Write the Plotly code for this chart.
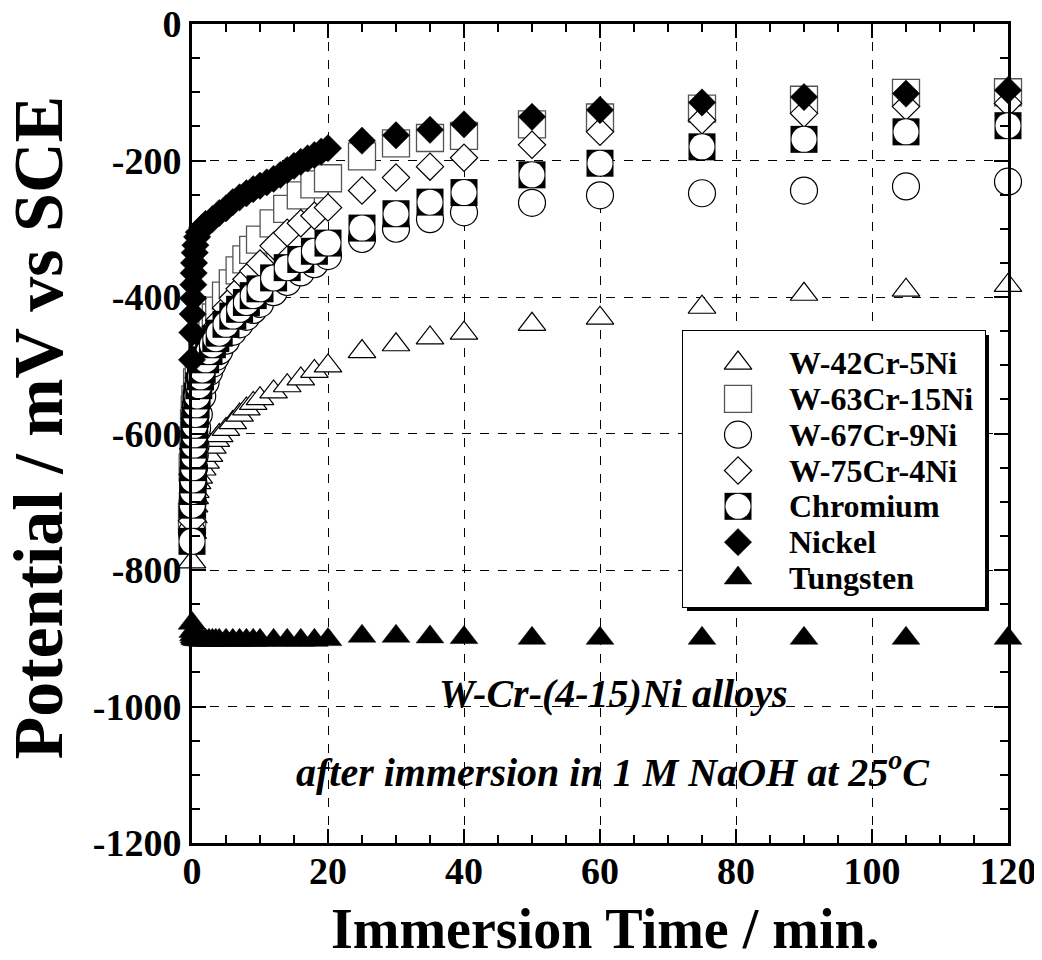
import plotly.graph_objects as go

# ---------------- data ----------------
t_alloy = [0, 0.1, 0.2, 0.3, 0.4, 0.5, 0.75, 1, 1.5, 2, 2.5, 3, 3.5, 4, 5, 6, 7, 8, 9, 10,
           12, 14, 16, 18, 20, 25, 30, 35, 40, 50, 60, 75, 90, 105, 120]

w42 = [-788, -745, -722, -706, -694, -685, -672, -664, -652, -642, -632, -620, -610, -603,
       -594, -584, -573, -564, -556, -549, -539, -530, -520, -509, -501,
       -480, -470, -460, -453, -440, -431, -415, -396, -390, -383]

w63 = [-722, -650, -610, -585, -565, -550, -525, -505, -482, -466, -452, -440, -430, -420,
       -398, -380, -361, -345, -331, -316, -292, -271, -251, -235, -226,
       -194, -175, -167, -164, -147, -137, -124, -111, -101, -100]

w67 = [-745, -700, -672, -650, -632, -618, -592, -572, -545, -525, -510, -498, -488, -479,
       -464, -451, -440, -429, -419, -410, -393, -378, -364, -352, -340,
       -315, -300, -286, -276, -262, -251, -248, -244, -238, -231]

w75 = [-728, -660, -622, -597, -578, -562, -537, -518, -496, -480, -467, -455, -444, -434,
       -416, -402, -388, -374, -362, -351, -325, -306, -292, -281, -269,
       -244, -225, -209, -196, -177, -158, -141, -131, -121, -116]

tungsten = [-878, -890, -895, -898, -900, -901, -902, -902, -903, -903, -903, -903, -903, -903,
            -903, -903, -903, -903, -903, -903, -903, -903, -903, -903, -902,
            -897, -897, -898, -899, -900, -900, -900, -900, -900, -900]

t_cr = [0, 0.05, 0.1, 0.15, 0.2, 0.25, 0.3, 0.35, 0.4, 0.5, 0.6, 0.75, 1, 1.25, 1.5, 2, 2.5,
        3, 3.5, 4, 5, 6, 7, 8, 9, 10, 12, 14, 16, 18, 20, 25, 30, 35, 40, 50, 60, 75, 90, 105, 120]
chromium = [-758, -705, -685, -668, -650, -633, -617, -602, -588, -572, -558, -545, -530, -517,
            -507, -492, -480, -470, -461, -453, -440, -428, -418, -408, -398, -388, -372, -357,
            -345, -333, -321, -299, -278, -261, -247, -221, -204, -180, -169, -158, -149]

t_ni = [0, 0.05, 0.1, 0.15, 0.2, 0.25, 0.3, 0.4, 0.5, 0.75, 1, 1.5, 2, 3, 4, 5, 6, 7, 8, 9, 10,
        11, 12, 13, 14, 15, 16, 17, 18, 19, 20, 25, 30, 35, 40, 50, 60, 75, 90, 105, 120]
nickel = [-492, -452, -425, -402, -382, -365, -350, -335, -324, -312, -305, -298, -293, -286,
          -277, -270, -261, -254, -248, -242, -237, -232, -227, -221, -214, -208, -202, -197,
          -192, -187, -182, -171, -163, -155, -147, -136, -126, -115, -107, -102, -97]

series_names = ["W-42Cr-5Ni", "W-63Cr-15Ni", "W-67Cr-9Ni", "W-75Cr-4Ni",
                "Chromium", "Nickel", "Tungsten"]

x_tick_vals = [0, 20, 40, 60, 80, 100, 120]
y_tick_vals = [0, -200, -400, -600, -800, -1000, -1200]
y_tick_text = ["0", "-200", "-400", "-600", "-800", "-1000", "-1200"]

x_title = "Immersion Time / min."
y_title = "Potential / mV vs SCE"
note_line1 = "W-Cr-(4-15)Ni alloys"
note_line2 = "after immersion in 1 M NaOH at 25<sup>o</sup>C"

# ---------------- styles ----------------
FONT = "Liberation Serif, Times New Roman, serif"
OPEN_LINE = dict(color="black", width=1.2)

styles = {
    "W-42Cr-5Ni": dict(symbol="triangle-up", size=24, color="white", line=OPEN_LINE, opacity=1),
    "W-63Cr-15Ni": dict(symbol="square", size=27, color="white",
                        line=dict(color="#555", width=1.3), opacity=1),
    "W-67Cr-9Ni": dict(symbol="circle", size=27, color="white", line=OPEN_LINE, opacity=1),
    "W-75Cr-4Ni": dict(symbol="diamond", size=21, color="white", line=OPEN_LINE, opacity=1),
    "Nickel": dict(symbol="diamond", size=21, color="black",
                   line=dict(color="black", width=0.5), opacity=1),
    "Tungsten": dict(symbol="triangle-up", size=24, color="black",
                     line=dict(color="black", width=0.5), opacity=1),
}

series_xy = {
    "W-42Cr-5Ni": (t_alloy, w42),
    "W-63Cr-15Ni": (t_alloy, w63),
    "W-67Cr-9Ni": (t_alloy, w67),
    "W-75Cr-4Ni": (t_alloy, w75),
    "Chromium": (t_cr, chromium),
    "Nickel": (t_ni, nickel),
    "Tungsten": (t_alloy, tungsten),
}


def chromium_marker(n):
    # black square with a white disc, drawn point by point
    return dict(symbol=["square", "circle"] * n, size=[27, 25] * n,
                color=["black", "white"] * n, line=dict(width=0), opacity=1)


def doubled(vals):
    out = []
    for v in vals:
        out += [v, v]
    return out


fig = go.Figure()

for name in series_names:
    xs, ys = series_xy[name]
    if name == "Chromium":
        fig.add_trace(go.Scatter(x=doubled(xs), y=doubled(ys), mode="markers", name=name,
                                 marker=chromium_marker(len(xs)), cliponaxis=False,
                                 showlegend=False))
    else:
        fig.add_trace(go.Scatter(x=xs, y=ys, mode="markers", name=name,
                                 marker=styles[name], cliponaxis=False, showlegend=False))

# ---------------- key (legend) on its own small axes ----------------
for name in series_names:
    if name == "Chromium":
        fig.add_trace(go.Scatter(x=[0, 0], y=[name, name], mode="markers",
                                 marker=chromium_marker(1), xaxis="x2", yaxis="y2",
                                 showlegend=False, hoverinfo="skip", cliponaxis=False))
    else:
        fig.add_trace(go.Scatter(x=[0], y=[name], mode="markers", marker=styles[name],
                                 xaxis="x2", yaxis="y2", showlegend=False,
                                 hoverinfo="skip", cliponaxis=False))

# The page body adds an 8 px offset; the figure is sized so it ends at the window edge.
# plot area in window pixels: x 192..1008, y 24..843 (816 x 819)
FIG_W, FIG_H = 1034, 952
PLOT_W, PLOT_H = 816, 819
KEY_DOM_X = [(683 - 192) / PLOT_W, (985 - 192) / PLOT_W]
KEY_DOM_Y = [(843 - 607) / PLOT_H, (843 - 331) / PLOT_H]

shapes = [
    # shadow
    dict(type="rect", xref="x2 domain", yref="y2 domain", x0=0.0132, x1=1.0132,
         y0=-0.0145, y1=0.9855, fillcolor="black", line=dict(width=0), layer="below"),
    # box
    dict(type="rect", xref="x2 domain", yref="y2 domain", x0=0, x1=1, y0=0, y1=1,
         fillcolor="white", line=dict(color="black", width=2), layer="below"),
]

annotations = []
for i, name in enumerate(series_names):
    annotations.append(dict(x=0.89, y=i, xref="x2", yref="y2", text=name, showarrow=False,
                            xanchor="left", yanchor="middle",
                            font=dict(family=FONT, size=32, color="black", weight="bold")))

annotations.append(dict(x=0.516, y=0.183, xref="paper", yref="paper", text=note_line1,
                        showarrow=False, xanchor="center", yanchor="middle",
                        font=dict(family=FONT, size=40, color="black", weight="bold",
                                  style="italic")))
annotations.append(dict(x=0.516, y=0.09, xref="paper", yref="paper", text=note_line2,
                        showarrow=False, xanchor="center", yanchor="middle",
                        font=dict(family=FONT, size=40, color="black", weight="bold",
                                  style="italic")))
# axis titles
annotations.append(dict(x=0.507, y=-0.105, xref="paper", yref="paper", text=x_title,
                        showarrow=False, xanchor="center", yanchor="middle",
                        font=dict(family=FONT, size=56, color="black", weight="bold")))
annotations.append(dict(x=-0.1878, y=0.507, xref="paper", yref="paper", text=y_title,
                        textangle=-90, showarrow=False, xanchor="center", yanchor="middle",
                        font=dict(family=FONT, size=70, color="black", weight="bold")))

axis_common = dict(
    showline=True, linecolor="black", linewidth=3, mirror="ticks",
    ticks="inside", ticklen=14, tickwidth=2, tickcolor="black",
    showgrid=True, gridcolor="black", gridwidth=1, griddash="dash",
    zeroline=False, automargin=False, ticklabeloverflow="allow",
    tickfont=dict(family=FONT, size=38, color="black", weight="bold"),
)

fig.update_layout(
    width=FIG_W, height=FIG_H,
    margin=dict(l=184, r=FIG_W - 184 - PLOT_W, t=16, b=FIG_H - 16 - PLOT_H),
    paper_bgcolor="white", plot_bgcolor="white",
    showlegend=False,
    xaxis=dict(range=[0, 120], tickmode="array", tickvals=x_tick_vals,
               ticklabelstandoff=-8,
               minor=dict(dtick=5, tick0=0, ticks="inside", ticklen=8, tickwidth=2,
                          tickcolor="black", showgrid=False),
               **axis_common),
    yaxis=dict(range=[-1200, 0], tickmode="array", tickvals=y_tick_vals, ticktext=y_tick_text,
               minor=dict(dtick=50, tick0=0, ticks="inside", ticklen=8, tickwidth=2,
                          tickcolor="black", showgrid=False),
               **axis_common),
    xaxis2=dict(domain=KEY_DOM_X, range=[-1, 4.49], visible=False, anchor="y2",
                fixedrange=True),
    yaxis2=dict(domain=KEY_DOM_Y, type="category", categoryorder="array",
                categoryarray=series_names, range=[6.81, -0.894], visible=False,
                anchor="x2", fixedrange=True),
    shapes=shapes,
    annotations=annotations,
)

fig.write_html("out.html")
